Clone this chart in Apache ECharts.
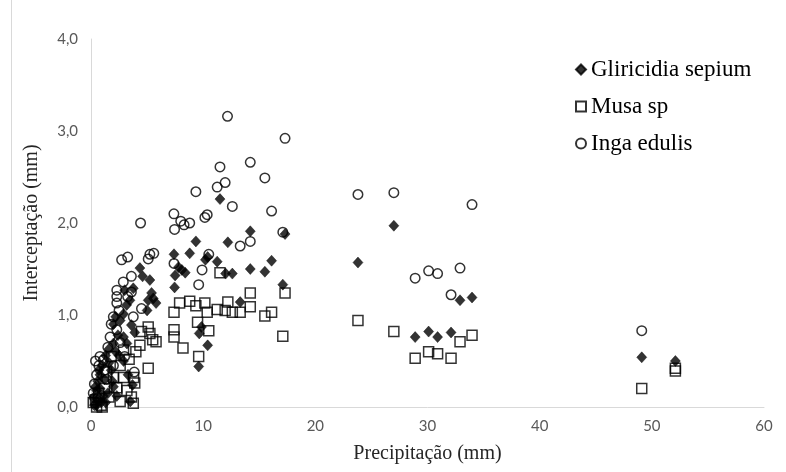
<!DOCTYPE html>
<html>
<head>
<meta charset="utf-8">
<script src="https://cdn.jsdelivr.net/npm/echarts@6/dist/echarts.min.js"></script>
<style>
html, body { margin: 0; padding: 0; background: #fff; }
#chart { width: 786px; height: 472px; }
</style>
</head>
<body>
<div id="chart"></div>
<script>
// Gliricidia sepium
var glirPrecip = [11.5,14.2,17.3,9.35,12.2,7.4,8.8,10.2,10.4,11.25,16.1,7.8,8.1,8.4,7.5,14.2,15.5,12.0,12.6,7.45,17.1,13.3,9.85,9.65,10.4,9.6,23.8,27.0,28.9,30.1,30.9,32.1,32.9,33.97,49.1,52.1,
    4.36,5.25,5.4,5.55,5.8,5.1,3.77,3.47,3.18,2.9,2.6,2.2,2.0,3.6,3.9,2.9,3.2,2.0,1.6,1.3,2.5,2.9,1.0,0.8,0.6,0.5,0.6,3.3,3.7,3.5,2.0,2.3,1.2,1.5,0.9,0.3,1.8,2.4,4.6,5.0,3.0,0.4,1.1,0.7,2.2,
    0.2,0.5,1.3,1.9,0.8,1.6];
var glirInterc = [2.26,1.91,1.88,1.80,1.79,1.66,1.67,1.60,1.63,1.58,1.59,1.52,1.49,1.46,1.43,1.50,1.47,1.45,1.45,1.30,1.33,1.14,0.87,0.80,0.67,0.44,1.57,1.97,0.76,0.82,0.76,0.81,1.16,1.19,0.54,0.50,
    1.51,1.38,1.24,1.18,1.13,1.16,1.29,1.16,1.11,1.01,0.94,0.98,0.90,0.89,0.81,0.76,0.69,0.69,0.63,0.56,0.56,0.50,0.45,0.35,0.28,0.18,0.08,0.35,0.24,0.06,0.22,0.12,0.30,0.15,0.05,0.02,0.40,0.78,1.42,1.05,1.27,0.22,0.12,0.40,0.60,
    0.10,0.02,0.05,0.28,0.20,0.48];

// Musa sp
var musaPrecip = [14.2,17.3,11.5,7.4,7.9,8.8,9.35,10.15,10.36,11.25,12.2,11.96,12.6,13.3,14.2,15.5,16.1,7.4,9.5,10.5,17.1,7.4,8.2,9.6,23.8,27.0,28.9,30.1,30.9,32.1,32.9,33.97,49.1,52.1,52.1,
    5.1,5.25,5.5,5.8,4.5,4.36,5.1,3.8,3.9,3.6,3.77,2.9,3.2,2.0,2.3,0.4,0.2,0.9,1.6,2.6,1.2,0.7,2.6,3.4,1.8,1.4,4.0,0.5,1.0,2.9];
var musaInterc = [1.24,1.24,1.46,1.03,1.13,1.15,1.10,1.13,1.03,1.06,1.14,1.05,1.03,1.03,1.09,0.99,1.03,0.84,0.92,0.83,0.77,0.76,0.64,0.55,0.94,0.82,0.53,0.60,0.58,0.53,0.71,0.78,0.20,0.39,0.42,
    0.87,0.80,0.73,0.71,0.82,0.67,0.42,0.32,0.26,0.11,0.04,0.32,0.18,0.32,0.21,0.08,0.05,0.02,0.11,0.06,0.20,0.15,0.45,0.52,0.55,0.38,0.60,0.00,0.00,0.62];

// Inga edulis
var ingaPrecip = [12.17,17.3,11.5,14.2,15.5,11.25,11.96,9.35,12.6,16.1,7.39,8.0,8.3,8.8,7.45,10.15,10.36,17.1,13.3,14.2,10.5,7.4,9.9,9.6,23.8,27.0,28.9,30.1,30.9,32.1,32.9,33.97,49.1,
    4.42,2.73,3.27,5.25,5.6,5.1,3.6,2.88,2.3,2.3,2.3,3.6,3.27,4.5,3.77,1.99,2.3,1.7,0.8,1.1,3.86,0.7,0.5,1.5,2.6,1.2,0.3,0.2,0.6,1.4,2.0,3.0,1.8,2.5,0.4];
var ingaInterc = [3.16,2.92,2.61,2.66,2.49,2.39,2.44,2.34,2.18,2.13,2.10,2.02,1.98,2.00,1.93,2.06,2.09,1.90,1.75,1.80,1.66,1.56,1.49,1.33,2.31,2.33,1.40,1.48,1.45,1.22,1.51,2.20,0.83,
    2.00,1.60,1.63,1.66,1.67,1.61,1.42,1.36,1.27,1.20,1.13,1.25,1.20,1.07,0.98,0.98,0.84,0.76,0.55,0.51,0.38,0.45,0.35,0.65,0.70,0.40,0.25,0.15,0.10,0.30,0.45,0.55,0.90,1.05,0.50];

var seriesNames = ['Gliricidia sepium', 'Musa sp', 'Inga edulis'];

function pairs(xs, ys) {
    return xs.map(function (x, i) { return [x, ys[i]]; });
}

var chart = echarts.init(document.getElementById('chart'));
var option = {
    animation: false,
    backgroundColor: '#fff',
    graphic: [{
        type: 'line',
        shape: {x1: 11.5, y1: 0, x2: 11.5, y2: 472},
        style: {stroke: '#d9d9d9', lineWidth: 1}
    }],
    grid: {left: 91, right: 22, top: 39, bottom: 65},
    legend: {
        orient: 'vertical',
        left: 570,
        top: 53,
        itemGap: 14,
        itemWidth: 10,
        itemHeight: 10,
        data: seriesNames,
        textStyle: {fontFamily: 'Liberation Serif', fontSize: 23, color: '#000'}
    },
    xAxis: {
        type: 'value',
        min: 0,
        max: 60,
        interval: 10,
        name: 'Precipitação (mm)',
        nameLocation: 'middle',
        nameGap: 37,
        nameTextStyle: {fontFamily: 'Liberation Serif', fontSize: 20, color: '#262626'},
        axisLine: {show: true, lineStyle: {color: '#d9d9d9'}},
        axisTick: {show: false},
        splitLine: {show: false},
        axisLabel: {fontFamily: 'Lato', fontSize: 15, color: '#595959', margin: 12}
    },
    yAxis: {
        type: 'value',
        min: 0,
        max: 4,
        interval: 1,
        name: 'Interceptação (mm)',
        nameLocation: 'middle',
        nameRotate: 90,
        nameGap: 49,
        nameTextStyle: {fontFamily: 'Liberation Serif', fontSize: 20, color: '#262626'},
        axisLine: {show: true, lineStyle: {color: '#d9d9d9'}},
        axisTick: {show: false},
        splitLine: {show: false},
        axisLabel: {
            fontFamily: 'Lato', fontSize: 15, color: '#595959', margin: 13,
            formatter: function (v) { return v.toFixed(1).replace('.', ','); }
        }
    },
    series: [
        {
            name: seriesNames[0],
            type: 'scatter',
            symbol: 'diamond',
            symbolSize: [10, 11],
            itemStyle: {color: '#000', borderColor: '#000', borderWidth: 0.5},
            data: pairs(glirPrecip, glirInterc)
        },
        {
            name: seriesNames[1],
            type: 'scatter',
            symbol: 'rect',
            symbolSize: 10,
            itemStyle: {color: 'rgba(255,255,255,0)', borderColor: '#000', borderWidth: 1.5},
            data: pairs(musaPrecip, musaInterc)
        },
        {
            name: seriesNames[2],
            type: 'scatter',
            symbol: 'circle',
            symbolSize: 9.5,
            itemStyle: {color: 'rgba(255,255,255,0)', borderColor: '#000', borderWidth: 1.5},
            data: pairs(ingaPrecip, ingaInterc)
        }
    ]
};
chart.setOption(option);
</script>
</body>
</html>
